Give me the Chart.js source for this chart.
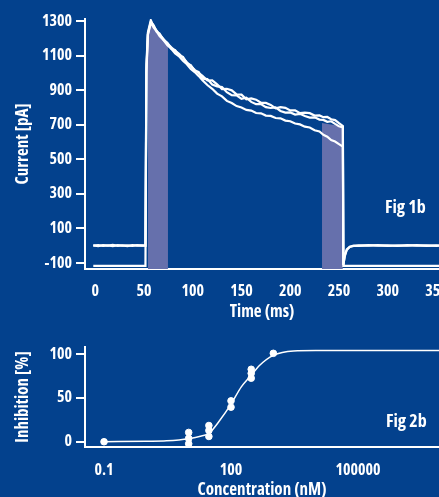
<!DOCTYPE html>
<html lang="en">
<head>
    <meta charset="UTF-8">
    <title>Fig 1b / Fig 2b</title>
    <script src="https://cdn.jsdelivr.net/npm/chart.js"></script>
    <style>
        body {
            background-color: #03418d; /* fundo azul da figura */
            margin: 0;
            width: 439px;
            height: 497px;
            overflow: hidden;
            position: relative;
            font-family: 'Open Sans', sans-serif;
        }
        #topBox { position: absolute; left: 0; top: 0; width: 439px; height: 330px; }
        #bottomBox { position: absolute; left: 0; top: 330px; width: 439px; height: 180px; }
        .figLabel {
            position: absolute;
            color: #fff;
            font-weight: bold;
            font-stretch: condensed;
            font-size: 18px;
            line-height: 22px;
            white-space: nowrap;
        }
    </style>
</head>
<body>
    <div id="topBox"><canvas id="currentChart"></canvas></div>
    <div id="bottomBox"><canvas id="inhibitionChart"></canvas></div>
    <div class="figLabel" style="left:385px; top:195px;">Fig 1b</div>
    <div class="figLabel" style="left:386px; top:409px;">Fig 2b</div>

    <script>
        // ---- Fig 1b: current traces ----
        const traceTime = [-2, 3, 8, 13, 18, 23, 28, 33, 38, 43, 48, 51.5, 52.5, 54, 57,
            60, 63, 66, 70, 74, 78, 82, 86, 90, 94, 98, 102, 106,
            110, 115, 120, 125, 130, 135, 140, 145, 150, 155, 160, 165, 170, 175, 180, 185,
            190, 195, 200, 205, 210, 215, 220, 225, 230, 234, 238, 242, 246, 250, 254,
            254.5, 256, 258, 261, 265, 270, 280, 290, 300, 310, 320, 330, 340, 350, 355];
        const traceA = [2, -2, 3, 0, 4, -1, 2, -2, 3, 0, 2, 0, 1050, 1235, 1305,
            1268, 1245, 1222, 1196, 1170, 1148, 1128, 1110, 1088, 1062, 1040, 1018, 1000,
            983, 956, 957, 934, 906, 908, 899, 876, 874, 847, 852, 845, 827, 826, 815, 795,
            802, 798, 783, 783, 767, 770, 767, 753, 754, 744, 745, 732, 727, 709, 692,
            -110, -60, -25, -8, -2, 2, 0, 3, -1, 2, 0, 3, -1, 2, 0];
        const traceB = [0, 3, -1, 2, -2, 3, 0, 2, -1, 3, 0, 1, 1020, 1225, 1295,
            1275, 1238, 1228, 1190, 1175, 1140, 1132, 1100, 1092, 1055, 1045, 1012, 1005,
            967, 964, 933, 922, 918, 888, 871, 870, 850, 857, 832, 819, 819, 802, 797, 801,
            780, 770, 771, 759, 763, 750, 741, 743, 730, 728, 717, 720, 705, 691, 684,
            -112, -55, -22, -6, 0, -1, 3, 0, 2, -2, 3, 0, 2, -1, 1];
        const traceC = [-117, -117, -117, -117, -117, -117, -117, -117, -117, -117, -117, -117, 1000, 1220, 1290,
            1262, 1240, 1213, 1190, 1160, 1140, 1113, 1096, 1070, 1050, 1023, 1005, 983,
            958, 930, 908, 880, 864, 838, 826, 808, 800, 786, 782, 768, 766, 753, 751, 739,
            737, 724, 720, 707, 702, 689, 684, 668, 661, 642, 631, 611, 603, 588, 573,
            -117, -117, -117, -117, -117, -117, -117, -117, -117, -117, -117, -117, -117, -117, -117];

        // faixas sombreadas (janelas de medida)
        const shade1Time = [54, 57, 74.6];
        const shade1Top = [1240, 1282, 1165];
        const shade2Time = [232.6, 254];
        const shade2Top = [710, 690];

        const timeTicks = [0, 50, 100, 150, 200, 250, 300, 350];
        const currentTicks = [-100, 100, 300, 500, 700, 900, 1100, 1300];

        // ---- Fig 2b: concentration-response ----
        const concPoints = [0.1, 10, 10, 10, 30, 30, 30, 100, 100, 300, 300, 300, 1000];
        const inhPoints = [0, 10.6, 3.8, -2.3, 18.5, 12.8, 6, 46.6, 39.4, 82.6, 78, 72.4, 100.8];
        const fitConc = [0.1, 1, 3, 10, 20, 30, 55, 100, 175, 300, 470, 1000, 3000, 10000, 1e6, 8.2e6];
        const fitInh = [0, 0.5, 1, 3.4, 6.5, 9.5, 24.7, 42.8, 62.5, 75.8, 87, 98.5, 103.5, 104, 104, 104];
        const concTicks = [0.1, 100, 100000];
        const concTickLabels = ['0.1', '100', '100000'];
        const inhTicks = [0, 50, 100];

        Chart.defaults.font.family = "'Open Sans', sans-serif";
        Chart.defaults.font.weight = 'bold condensed'; // vai direto para a string do ctx.font
        Chart.defaults.color = '#ffffff';

        const toXY = (xs, ys) => xs.map((x, i) => ({ x: x, y: ys[i] }));

        function traceSet(data) {
            return {
                type: 'line', data: data, borderColor: '#ffffff', borderWidth: 2.2,
                pointRadius: 0, tension: 0, fill: false, order: 0
            };
        }
        function shadeSet(data) {
            return {
                type: 'line', data: data, borderWidth: 0, borderColor: 'rgba(0,0,0,0)',
                backgroundColor: 'rgb(102, 112, 172)', pointRadius: 0, fill: 'start', order: 10
            };
        }

        const whiteBorder = { display: true, color: '#ffffff', width: 2 };
        const yGrid = { display: true, drawOnChartArea: false, drawTicks: true, tickLength: 9, color: '#ffffff', lineWidth: 2 };
        const noPad = (scale) => { scale.paddingLeft = 0; scale.paddingRight = 0; scale.paddingTop = 0; scale.paddingBottom = 0; };

        new Chart(document.getElementById('currentChart'), {
            type: 'line',
            data: {
                datasets: [
                    shadeSet(toXY(shade1Time, shade1Top)),
                    shadeSet(toXY(shade2Time, shade2Top)),
                    traceSet(toXY(traceTime, traceC)),
                    traceSet(toXY(traceTime, traceB)),
                    traceSet(toXY(traceTime, traceA))
                ]
            },
            options: {
                responsive: true,
                maintainAspectRatio: false,
                animation: false,
                layout: { padding: { top: 19, right: 0, bottom: 0, left: 0 }, autoPadding: false },
                plugins: { legend: { display: false }, tooltip: { enabled: false } },
                scales: {
                    x: {
                        type: 'linear', min: -10.5, max: 352.6,
                        afterBuildTicks: (axis) => { axis.ticks = timeTicks.map(v => ({ value: v })); },
                        afterFit: (scale) => { scale.height = 61; noPad(scale); },
                        ticks: { font: { size: 16 }, padding: 5, maxRotation: 0, autoSkip: false, callback: (v) => String(v) },
                        grid: { display: false },
                        border: whiteBorder,
                        title: { display: true, text: 'Time (ms)', font: { size: 17 }, padding: { top: 0, bottom: 8 } }
                    },
                    y: {
                        min: -135, max: 1312,
                        afterBuildTicks: (axis) => { axis.ticks = currentTicks.map(v => ({ value: v })); },
                        afterFit: (scale) => { scale.width = 85; noPad(scale); },
                        ticks: { font: { size: 16 }, padding: 4, callback: (v) => String(v) },
                        grid: yGrid,
                        border: whiteBorder,
                        title: { display: true, text: 'Current [pA]', font: { size: 17 }, padding: { top: 13, bottom: 0 } }
                    }
                }
            }
        });

        new Chart(document.getElementById('inhibitionChart'), {
            type: 'scatter',
            data: {
                datasets: [
                    {
                        type: 'line', data: toXY(fitConc, fitInh), borderColor: '#ffffff', borderWidth: 1.5,
                        pointRadius: 0, cubicInterpolationMode: 'monotone', fill: false, order: 1
                    },
                    {
                        type: 'scatter', data: toXY(concPoints, inhPoints), backgroundColor: '#ffffff',
                        borderColor: '#ffffff', pointRadius: 3.3, order: 0
                    }
                ]
            },
            options: {
                responsive: true,
                maintainAspectRatio: false,
                animation: false,
                layout: { padding: { top: 17, right: 0, bottom: 0, left: 0 }, autoPadding: false },
                plugins: { legend: { display: false }, tooltip: { enabled: false } },
                scales: {
                    x: {
                        type: 'logarithmic', min: 0.0355, max: 8.2e6,
                        afterBuildTicks: (axis) => { axis.ticks = concTicks.map(v => ({ value: v })); },
                        afterFit: (scale) => { scale.height = 63; noPad(scale); },
                        ticks: {
                            font: { size: 16 }, padding: 6, maxRotation: 0, autoSkip: false,
                            callback: (v) => concTickLabels[concTicks.indexOf(v)] ?? ''
                        },
                        grid: { display: false },
                        border: whiteBorder,
                        title: { display: true, text: 'Concentration (nM)', font: { size: 17 }, padding: { top: 0, bottom: 10 } }
                    },
                    y: {
                        min: -6, max: 108,
                        afterBuildTicks: (axis) => { axis.ticks = inhTicks.map(v => ({ value: v })); },
                        afterFit: (scale) => { scale.width = 85; noPad(scale); },
                        ticks: { font: { size: 16 }, padding: 4, callback: (v) => String(v) },
                        grid: yGrid,
                        border: whiteBorder,
                        title: { display: true, text: 'Inhibition [%]', font: { size: 17 }, padding: { top: 13, bottom: 0 } }
                    }
                }
            }
        });
    </script>
</body>
</html>
